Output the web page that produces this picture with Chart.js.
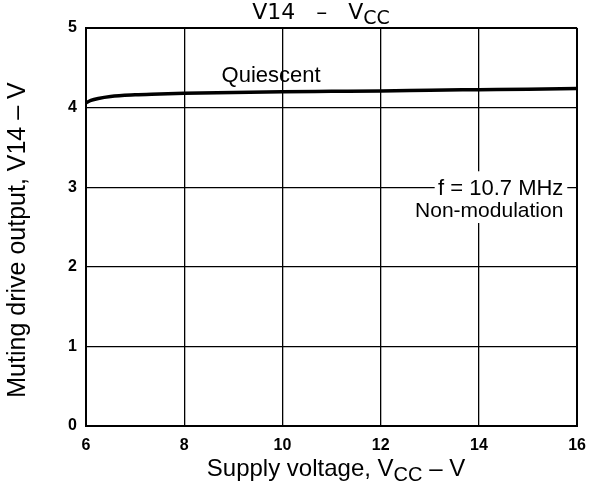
<!DOCTYPE html>
<html>
<head>
<meta charset="utf-8">
<script src="https://cdn.jsdelivr.net/npm/chart.js@4/dist/chart.umd.min.js"></script>
<style>
  html, body { margin: 0; padding: 0; background: #fff; }
  #wrap { width: 596px; height: 484px; }
</style>
</head>
<body>
<div id="wrap"><canvas id="v14Chart" width="596" height="484"></canvas></div>
<script>
/* V14 vs VCC — muting drive output curve */

const vcc = [6, 6.1, 6.25, 6.5, 7, 7.5, 8, 9, 10, 11, 12, 13, 14, 15, 16];
const v14 = [4.06, 4.09, 4.115, 4.14, 4.16, 4.17, 4.18, 4.19, 4.2, 4.205, 4.21, 4.218, 4.225, 4.232, 4.24];
const xTicks = [6, 8, 10, 12, 14, 16];
const yTicks = [0, 1, 2, 3, 4, 5];

const textFont = '"Liberation Sans", Arial, sans-serif';
const tickFont = { family: textFont, size: 16, weight: 'bold' };

// draw a run of text pieces, the "sub" ones smaller and lowered
function drawSub(ctx, parts, x, y, size, family, align) {
    const subSize = Math.round(size * 0.85);
    const widths = parts.map(p => {
        ctx.font = (p.sub ? subSize : size) + 'px ' + family;
        return ctx.measureText(p.t).width;
    });
    const total = widths.reduce((a, b) => a + b, 0);
    let cx = align === 'center' ? x - total / 2 : x;
    parts.forEach((p, i) => {
        ctx.font = (p.sub ? subSize : size) + 'px ' + family;
        ctx.fillText(p.t, cx, y + (p.sub ? size * 0.22 : 0));
        cx += widths[i];
    });
}

const labelsPlugin = {
    id: 'labels',
    afterDatasetsDraw(chart) {
        const ctx = chart.ctx;
        const xs = chart.scales.x, ys = chart.scales.y;
        ctx.save();
        ctx.fillStyle = '#000';
        ctx.textBaseline = 'alphabetic';
        ctx.textAlign = 'left';

        // title
        drawSub(ctx, [{ t: 'V14   \u2013   V' }, { t: 'CC', sub: true }],
            321, 19, 22, '"DejaVu Sans", Verdana, sans-serif', 'center');

        // curve label
        ctx.font = '22px ' + textFont;
        ctx.fillText('Quiescent', xs.getPixelForValue(8.76), ys.getPixelForValue(4.32));

        // condition note, knocked out of the grid
        const bx0 = xs.getPixelForValue(13.1), bx1 = xs.getPixelForValue(15.8);
        const by0 = ys.getPixelForValue(3.2), by1 = ys.getPixelForValue(2.55);
        ctx.fillStyle = '#fff';
        ctx.fillRect(bx0, by0, bx1 - bx0, by1 - by0);
        ctx.fillStyle = '#000';
        ctx.textAlign = 'right';
        const tx = xs.getPixelForValue(15.72);
        ctx.font = '22px ' + textFont;
        ctx.fillText('f = 10.7 MHz', tx, ys.getPixelForValue(2.9));
        ctx.font = '21px ' + textFont;
        ctx.fillText('Non-modulation', tx, ys.getPixelForValue(2.63));

        // x axis title
        ctx.textAlign = 'left';
        drawSub(ctx, [{ t: 'Supply voltage, V' }, { t: 'CC', sub: true }, { t: ' \u2013 V' }],
            336, 476, 24, textFont, 'center');

        // y axis title
        ctx.translate(25, 240);
        ctx.rotate(-Math.PI / 2);
        ctx.textAlign = 'center';
        ctx.font = '25px ' + textFont;
        ctx.fillText('Muting drive output, V14 \u2013 V', 0, 0);
        ctx.restore();
    },
};

function edgeWidth(ctx) {
    const n = ctx.scale.ticks.length;
    return (ctx.index === 0 || ctx.index === n - 1) ? 2 : 1.3;
}

new Chart(document.getElementById('v14Chart'), {
    type: 'scatter',
    data: {
        datasets: [{
            data: vcc.map((v, i) => ({ x: v, y: v14[i] })),
            showLine: true,
            borderColor: '#000',
            borderWidth: 3.5,
            pointRadius: 0,
            cubicInterpolationMode: 'monotone',
        }],
    },
    options: {
        responsive: false,
        animation: false,
        layout: { padding: { left: 0, right: 14, top: 28, bottom: 0 } },
        plugins: {
            legend: { display: false },
            tooltip: { enabled: false },
        },
        scales: {
            x: {
                type: 'linear',
                min: 6, max: 16,
                afterBuildTicks(s) { s.ticks = xTicks.map(v => ({ value: v })); },
                afterFit(s) { s.height = 58; },
                ticks: { color: '#000', font: tickFont, padding: 10, maxRotation: 0 },
                grid: { color: '#000', lineWidth: edgeWidth, drawTicks: false },
                border: { color: '#000', width: 2 },
            },
            y: {
                type: 'linear',
                min: 0, max: 5,
                afterBuildTicks(s) { s.ticks = yTicks.map(v => ({ value: v })); },
                afterFit(s) { s.width = 86; },
                ticks: { color: '#000', font: tickFont, padding: 9 },
                grid: { color: '#000', lineWidth: edgeWidth, drawTicks: false },
                border: { color: '#000', width: 2 },
            },
        },
    },
    plugins: [labelsPlugin],
});
</script>
</body>
</html>
